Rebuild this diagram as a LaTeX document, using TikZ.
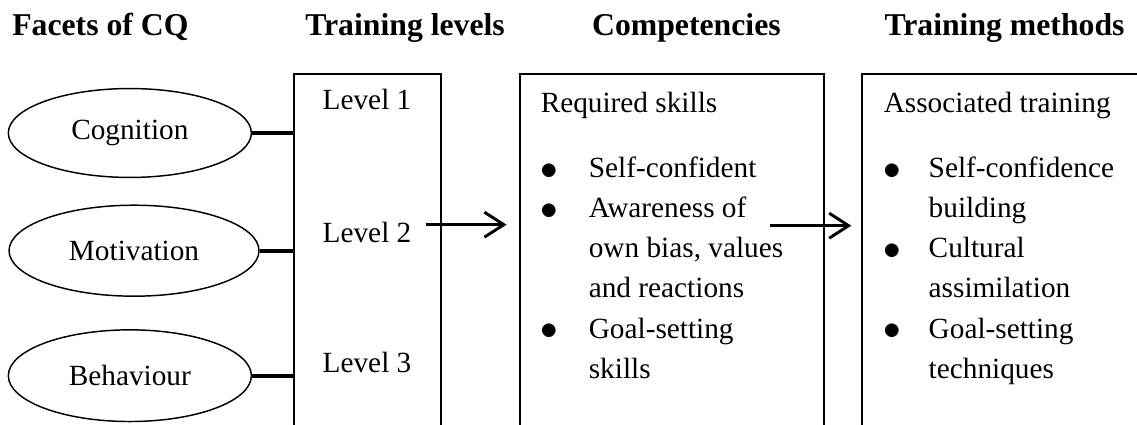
\documentclass[tikz,border=0pt]{standalone}
\usepackage{fontspec}
\setmainfont{Liberation Serif}
\usetikzlibrary{shapes,arrows.meta,positioning,calc}

\newcommand{\blt}{{\fontsize{14.5pt}{14.5pt}\selectfont\raisebox{-0.6pt}{$\bullet$}}}

\begin{document}
\begin{tikzpicture}[
    every node/.style={font=\fontsize{12pt}{16.4pt}\selectfont},
    heading/.style={anchor=base west, inner sep=0pt, font=\fontsize{13pt}{15pt}\selectfont\bfseries},
    txt/.style={anchor=base west, inner sep=0pt},
    facet/.style={draw, ellipse, line width=0.6pt, inner sep=0pt},
    frame/.style={draw, line width=0.8pt, anchor=north west, minimum height=5.6cm},
    link/.style={line width=1.5pt},
    flow/.style={line width=1.2pt, -{Straight Barb[length=2.8mm,width=3.6mm,line width=1.2pt]}}
]
    \useasboundingbox (0,0) rectangle (16.373,-6.12);
    \clip (0,0) rectangle (16.373,-6.12);

    % Headings
    \node[heading] (hfacet) at (0.17,-0.518) {Facets of CQ};
    \node[heading] (hlevel) at (4.39,-0.518) {Training levels};
    \node[heading] (hcomp) at (8.52,-0.518) {Competencies};
    \node[heading] (hmeth) at (12.73,-0.518) {Training methods};

    % Facets
    \node[facet, minimum width=3.50cm, minimum height=1.28cm] (cog) at (1.87,-1.915) {Cognition};
    \node[facet, minimum width=3.60cm, minimum height=1.31cm] (mot) at (1.93,-3.61) {Motivation};
    \node[facet, minimum width=3.50cm, minimum height=1.32cm] (beh) at (1.87,-5.41) {Behaviour};

    % Boxes (open at the bottom)
    \node[frame, minimum width=2.12cm] (levels) at (4.22,-1.05) {};
    \node[frame, minimum width=4.38cm] (comp) at (7.47,-1.05) {};
    \node[frame, minimum width=4.60cm] (meth) at (12.40,-1.05) {};

    \draw[link] (cog.east) -- (cog.east -| levels.west);
    \draw[link] (mot.east) -- (mot.east -| levels.west);
    \draw[link] (beh.east) -- (beh.east -| levels.west);

    % Training levels
    \node[txt] (lv1) at (4.64,-1.584) {Level 1};
    \node[txt] (lv2) at (4.64,-3.485) {Level 2};
    \node[txt] (lv3) at (4.64,-5.36) {Level 3};

    % Competencies
    \node[txt] (skills) at (7.78,-1.613) {\begin{tabular}[t]{@{}p{19.7pt}@{}l@{}}
        \multicolumn{2}{@{}l@{}}{Required skills}\\[10.6pt]
        \blt & Self-confident\\
        \blt & Awareness of\\
             & own bias, values\\
             & and reactions\\
        \blt & Goal-setting\\
             & skills
    \end{tabular}};

    % Training methods
    \node[txt] (train) at (12.72,-1.613) {\begin{tabular}[t]{@{}p{18.4pt}@{}l@{}}
        \multicolumn{2}{@{}l@{}}{Associated training}\\[10.6pt]
        \blt & Self-confidence\\
             & building\\
        \blt & Cultural\\
             & assimilation\\
        \blt & Goal-setting\\
             & techniques
    \end{tabular}};

    % Arrows
    \coordinate (awout) at (11.09,-3.25);
    \draw[flow] ([xshift=6pt,yshift=3pt]lv2.east) -- ([xshift=-5pt,yshift=3pt]lv2.east -| comp.west);
    \draw[flow] (awout) -- ([xshift=-4pt]awout -| meth.west);
\end{tikzpicture}
\end{document}
